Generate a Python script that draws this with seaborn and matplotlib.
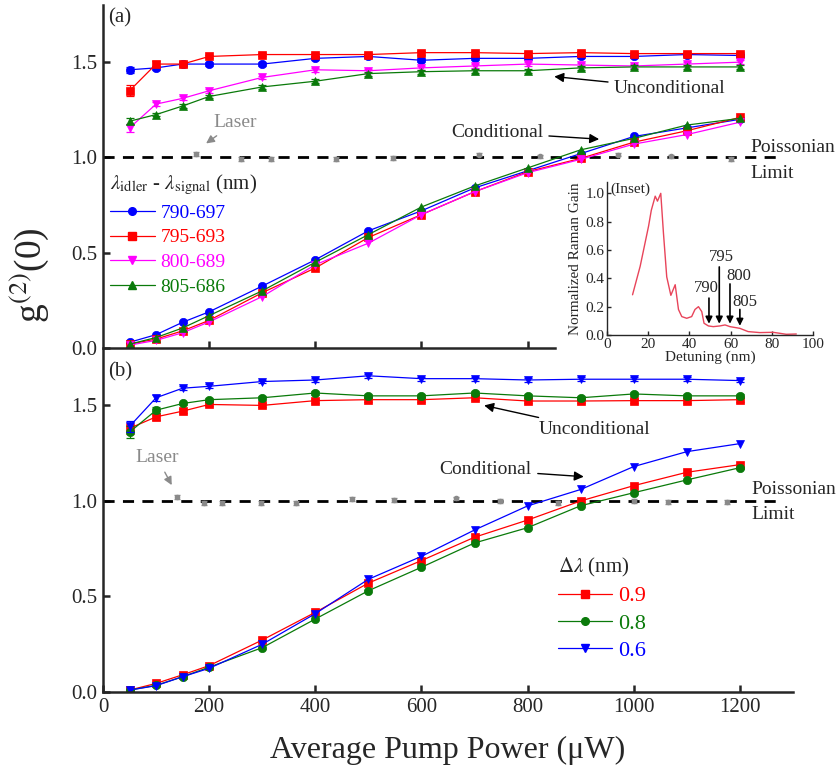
import numpy as np
import pandas as pd
import matplotlib
matplotlib.use("Agg")
import matplotlib.pyplot as plt
import seaborn as sns
from matplotlib.lines import Line2D

# ---------------- data ----------------
power = [50, 100, 150, 200, 300, 400, 500, 600, 700, 800, 900, 1000, 1100, 1200]

# panel (a): unconditional
a_unc_790 = [1.46, 1.47, 1.49, 1.49, 1.49, 1.52, 1.53, 1.51, 1.52, 1.52, 1.53, 1.53, 1.54, 1.535]
a_unc_795 = [1.35, 1.49, 1.49, 1.53, 1.54, 1.54, 1.54, 1.55, 1.55, 1.545, 1.55, 1.545, 1.545, 1.545]
a_unc_800 = [1.155, 1.28, 1.31, 1.35, 1.42, 1.46, 1.455, 1.47, 1.48, 1.49, 1.485, 1.48, 1.49, 1.50]
a_unc_805 = [1.19, 1.225, 1.27, 1.32, 1.37, 1.40, 1.44, 1.45, 1.455, 1.455, 1.47, 1.475, 1.475, 1.475]
# panel (a): conditional
a_con_790 = [0.03, 0.07, 0.135, 0.19, 0.325, 0.463, 0.615, 0.72, 0.84, 0.93, 1.02, 1.11, 1.155, 1.20]
a_con_795 = [0.02, 0.047, 0.09, 0.145, 0.29, 0.42, 0.58, 0.70, 0.82, 0.925, 0.995, 1.08, 1.14, 1.21]
a_con_800 = [0.015, 0.04, 0.08, 0.137, 0.27, 0.437, 0.55, 0.70, 0.82, 0.92, 0.99, 1.07, 1.12, 1.185]
a_con_805 = [0.02, 0.055, 0.105, 0.17, 0.30, 0.45, 0.595, 0.74, 0.85, 0.945, 1.04, 1.10, 1.17, 1.205]
a_err_790 = [0.015, 0.01, 0.01, 0.01, 0.01, 0.01, 0.01, 0.01, 0.01, 0.01, 0.01, 0.01, 0.01, 0.01]
a_err_795 = [0.03, 0.015, 0.015, 0.01, 0.01, 0.01, 0.01, 0.01, 0.01, 0.01, 0.01, 0.01, 0.01, 0.01]
a_err_800 = [0.02, 0.01, 0.01, 0.01, 0.01, 0.01, 0.01, 0.01, 0.01, 0.01, 0.01, 0.01, 0.01, 0.01]
a_err_805 = [0.015, 0.01, 0.01, 0.01, 0.01, 0.01, 0.01, 0.01, 0.01, 0.01, 0.01, 0.01, 0.01, 0.01]
a_labels = ["790-697", "795-693", "800-689", "805-686"]

laser_a_x = [175, 260, 316, 439, 546, 709, 823, 970, 1071, 1184]
laser_a_y = [1.02, 0.99, 0.99, 0.99, 0.995, 1.015, 1.005, 1.015, 1.005, 0.99]

# panel (b): unconditional
b_unc_09 = [1.38, 1.44, 1.47, 1.505, 1.50, 1.525, 1.53, 1.53, 1.54, 1.523, 1.523, 1.525, 1.525, 1.53]
b_unc_08 = [1.36, 1.475, 1.51, 1.53, 1.54, 1.565, 1.55, 1.55, 1.565, 1.55, 1.54, 1.56, 1.55, 1.55]
b_unc_06 = [1.39, 1.54, 1.59, 1.60, 1.625, 1.633, 1.655, 1.64, 1.64, 1.633, 1.637, 1.637, 1.637, 1.63]
# panel (b): conditional
b_con_09 = [0.01, 0.045, 0.09, 0.138, 0.272, 0.417, 0.57, 0.688, 0.81, 0.90, 1.0, 1.08, 1.15, 1.19]
b_con_08 = [0.01, 0.035, 0.08, 0.13, 0.232, 0.382, 0.53, 0.653, 0.78, 0.86, 0.975, 1.043, 1.11, 1.174]
b_con_06 = [0.01, 0.033, 0.08, 0.124, 0.25, 0.41, 0.59, 0.71, 0.848, 0.974, 1.06, 1.18, 1.258, 1.30]
b_err = [0.03, 0.015, 0.01, 0.01, 0.01, 0.01, 0.01, 0.01, 0.01, 0.01, 0.01, 0.01, 0.01, 0.01]
b_labels = ["0.9", "0.8", "0.6"]

laser_b_x = [140, 190, 224, 297, 363, 469, 549, 665, 748, 857, 1000, 1065, 1176]
laser_b_y = [1.02, 0.99, 0.99, 0.99, 0.99, 1.008, 1.005, 1.013, 1.0, 0.99, 1.0, 0.995, 0.995]

# inset: Raman gain spectrum
det_nm = [12.4, 16.1, 20.2, 21.5, 23.4, 24.5, 26.1, 27.4, 29.0, 31.0, 33.1, 34.7, 36.3, 38.7,
          41.1, 42.7, 44.4, 46.0, 47.1, 49.2, 51.6, 54.8, 57.3, 59.7, 64.5, 68.5, 74.2, 80.6,
          83.9, 87.0, 91.9]
gain = [0.284, 0.485, 0.77, 0.88, 0.98, 0.945, 1.0, 0.72, 0.41, 0.28, 0.355, 0.18, 0.13, 0.118,
        0.13, 0.18, 0.20, 0.165, 0.083, 0.064, 0.059, 0.064, 0.071, 0.059, 0.047, 0.024, 0.017,
        0.019, 0.012, 0.005, 0.007]
arrow_names = ["790", "795", "800", "805"]
arrow_x = [49.5, 54.5, 59.7, 64.5]
arrow_top = [0.28, 0.50, 0.38, 0.20]
arrow_tip = [0.06, 0.06, 0.06, 0.045]
arrow_lbl_x = [48.0, 55.6, 64.0, 67.0]
arrow_lbl_y = [0.33, 0.55, 0.42, 0.23]

# ---------------- style ----------------
sns.set_theme(style="ticks")
plt.rcParams["font.family"] = ["Liberation Serif", "DejaVu Serif"]
plt.rcParams["mathtext.fontset"] = "stix"
plt.rcParams["axes.linewidth"] = 1.8

BLUE = "#0000ff"
RED = "#ff0000"
MAG = "#ff00ff"
GREEN = "#0a7a0a"
GREY = "#8a8a8a"

fig = plt.figure(figsize=(8.37, 7.70), dpi=100)
fig.patch.set_facecolor("white")

L, R = 103 / 837, 793 / 837
ax_a = fig.add_axes([L, 1 - 348 / 770, R - L, 343 / 770])
ax_b = fig.add_axes([L, 1 - 692 / 770, R - L, 342 / 770])


def draw_series(ax, x, y, color, marker, err=None):
    df = pd.DataFrame({"x": x, "y": y})
    sns.lineplot(data=df, x="x", y="y", ax=ax, color=color, marker=marker,
                 markersize=6, markeredgecolor=color, markeredgewidth=0.5,
                 linewidth=0.9, estimator=None, legend=False)
    if err is not None:
        ax.errorbar(x, y, yerr=err, fmt="none", ecolor=color, elinewidth=0.9,
                    capsize=3, capthick=0.9)


for ax in (ax_a, ax_b):
    ax.axhline(1.0, xmin=0, xmax=1280 / 1300, color="black", lw=2.0,
               dashes=(4, 3), zorder=1)

# panel (a)
series_a = [
    (a_unc_790, a_con_790, a_err_790, BLUE, "o"),
    (a_unc_795, a_con_795, a_err_795, RED, "s"),
    (a_unc_800, a_con_800, a_err_800, MAG, "v"),
    (a_unc_805, a_con_805, a_err_805, GREEN, "^"),
]
for unc, con, err, c, m in series_a:
    draw_series(ax_a, power, unc, c, m, err)
    draw_series(ax_a, power, con, c, m)
ax_a.errorbar(laser_a_x, laser_a_y, yerr=0.01, fmt="o", ms=3, color=GREY,
              elinewidth=0.9, capsize=2.5)

# panel (b)
series_b = [
    (b_unc_09, b_con_09, RED, "s"),
    (b_unc_08, b_con_08, GREEN, "o"),
    (b_unc_06, b_con_06, BLUE, "v"),
]
for unc, con, c, m in series_b:
    draw_series(ax_b, power, unc, c, m, b_err)
    draw_series(ax_b, power, con, c, m)
ax_b.errorbar(laser_b_x, laser_b_y, yerr=0.01, fmt="o", ms=3, color=GREY,
              elinewidth=0.9, capsize=2.5)

for ax in (ax_a, ax_b):
    ax.set_xlim(0, 1300)
    ax.set_ylim(0, 1.8)
    ax.set_yticks([0.0, 0.5, 1.0, 1.5])
    ax.set_yticklabels(["0.0", "0.5", "1.0", "1.5"])
    ax.set_xlabel("")
    ax.set_ylabel("")
    ax.set_facecolor("none")
    ax.tick_params(direction="in", length=5, width=1.8, labelsize=15, pad=4)
    sns.despine(ax=ax)
    ax.spines["left"].set_linewidth(1.8)
    ax.spines["bottom"].set_linewidth(1.8)

ax_a.set_xticks([200, 400, 600, 800])
ax_a.set_xticklabels([])
ax_a.spines["bottom"].set_bounds(0, 851)
ax_b.set_xticks([0, 200, 400, 600, 800, 1000, 1200])
ax_b.set_ylim(0, 1.79)

# annotations
ann_kw = dict(fontsize=14, ha="center", va="center")
arr_k = dict(arrowstyle="-|>", color="black", lw=1.0, mutation_scale=14)
arr_g = dict(arrowstyle="-|>", color=GREY, lw=1.0, mutation_scale=12)

ax_a.text(9, 1.73, "(a)", fontsize=15, ha="left", va="center")
ax_a.annotate("Unconditional", xy=(845, 1.426), xytext=(1068, 1.363),
              arrowprops=arr_k, **ann_kw)
ax_a.annotate("Conditional", xy=(940, 1.095), xytext=(742, 1.13),
              arrowprops=arr_k, **ann_kw)
ax_a.annotate("Laser", xy=(190, 1.065), xytext=(249, 1.184), color=GREY,
              arrowprops=arr_g, **ann_kw)
ax_a.text(1219, 1.053, "Poissonian", fontsize=14, ha="left", va="center", clip_on=False)
ax_a.text(1219, 0.916, "Limit", fontsize=14, ha="left", va="center", clip_on=False)

ax_b.text(9, 1.675, "(b)", fontsize=15, ha="left", va="center")
ax_b.annotate("Unconditional", xy=(713, 1.503), xytext=(926, 1.372),
              arrowprops=arr_k, **ann_kw)
ax_b.annotate("Conditional", xy=(911, 1.126), xytext=(721, 1.162),
              arrowprops=arr_k, **ann_kw)
ax_b.annotate("Laser", xy=(132, 1.07), xytext=(102, 1.225), color=GREY,
              arrowprops=arr_g, **ann_kw)
ax_b.text(1222, 1.058, "Poissonian", fontsize=14, ha="left", va="center", clip_on=False)
ax_b.text(1222, 0.93, "Limit", fontsize=14, ha="left", va="center", clip_on=False)

# legends
def make_handles(specs):
    return [Line2D([0], [0], color=c, marker=m, lw=0.9, ms=5.5, mec=c) for c, m in specs]

h_a = make_handles([(BLUE, "o"), (RED, "s"), (MAG, "v"), (GREEN, "^")])
leg_a = ax_a.legend(h_a, a_labels, title=r"$\lambda_{\rm idler}$ - $\lambda_{\rm signal}$ (nm)",
                    loc="upper left", bbox_to_anchor=(108 / 837, 1 - 171 / 770),
                    bbox_transform=fig.transFigure, frameon=False, fontsize=14,
                    title_fontsize=15, handlelength=2.3, handletextpad=0.3,
                    labelspacing=0.36, labelcolor="linecolor", alignment="left",
                    borderpad=0.1, borderaxespad=0)

h_b = make_handles([(RED, "s"), (GREEN, "o"), (BLUE, "v")])
leg_b = ax_b.legend(h_b, b_labels, title=r"$\Delta\lambda$ (nm)",
                    loc="upper left", bbox_to_anchor=(556 / 837, 1 - 554 / 770),
                    bbox_transform=fig.transFigure, frameon=False, fontsize=16,
                    title_fontsize=15, handlelength=2.4, handletextpad=0.3,
                    labelspacing=0.3, labelcolor="linecolor", alignment="left",
                    borderpad=0.1, borderaxespad=0)

# axis labels
fig.text(0.035, 0.643, r"g$^{(2)}$(0)", fontsize=27, rotation=90, ha="center", va="center")
fig.text(448 / 837, 1 - 750 / 770, "Average Pump Power (\u03bcW)", fontsize=23,
         ha="center", va="center")

# inset
ax_in = fig.add_axes([607 / 837, 1 - 335 / 770, 206 / 837, 153 / 770])
ins_df = pd.DataFrame({"det": det_nm, "gain": gain})
sns.lineplot(data=ins_df, x="det", y="gain", ax=ax_in, color="#e8445a", lw=1.0,
             estimator=None, legend=False)
ax_in.set_xlim(0, 100)
ax_in.set_ylim(0, 1.08)
ax_in.set_xticks([0, 20, 40, 60, 80, 100])
ax_in.set_yticks([0.0, 0.2, 0.4, 0.6, 0.8, 1.0])
ax_in.set_yticklabels(["0.0", "0.2", "0.4", "0.6", "0.8", "1.0"])
ax_in.tick_params(direction="in", length=3, width=1.0, labelsize=11, pad=2)
sns.despine(ax=ax_in)
for s in ("left", "bottom"):
    ax_in.spines[s].set_linewidth(1.0)
ax_in.set_xlabel("Detuning (nm)", fontsize=11, labelpad=0)
ax_in.set_ylabel("Normalized Raman Gain", fontsize=11, labelpad=2)
ax_in.text(1.5, 1.03, "(Inset)", fontsize=11, ha="left", va="center")
for nm, xx, top, tip, lx, ly in zip(arrow_names, arrow_x, arrow_top, arrow_tip,
                                     arrow_lbl_x, arrow_lbl_y):
    ax_in.annotate("", xy=(xx, tip), xytext=(xx, top),
                   arrowprops=dict(arrowstyle="-|>", color="black", lw=1.2,
                                   mutation_scale=10))
    ax_in.text(lx, ly, nm, fontsize=12, ha="center", va="center")

fig.savefig("out.png", dpi=100, facecolor="white")
